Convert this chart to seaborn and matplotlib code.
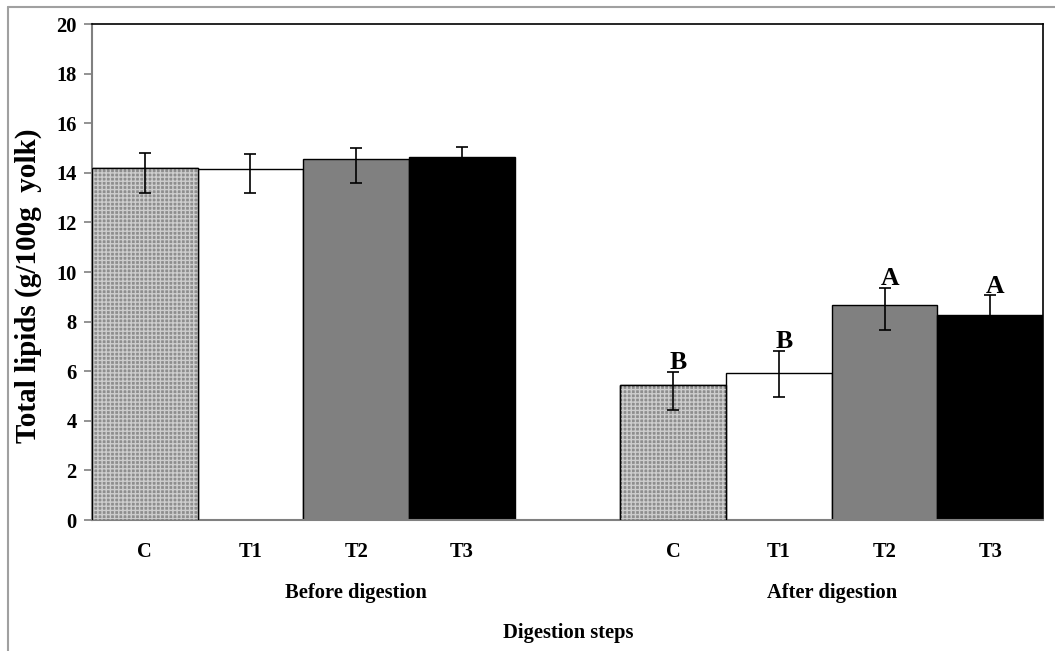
import numpy as np
import pandas as pd
import matplotlib
matplotlib.use("Agg")
import matplotlib.pyplot as plt
from matplotlib.lines import Line2D
import seaborn as sns

# ---- data ----
treatments = ["C", "T1", "T2", "T3", "C", "T1", "T2", "T3"]
stages = ["Before digestion"] * 4 + ["After digestion"] * 4
values = [14.2, 14.17, 14.57, 14.63, 5.43, 5.94, 8.68, 8.27]
err_low = [1.0, 1.0, 1.0, 0.4, 1.0, 0.97, 1.01, 0.8]
err_high = [0.61, 0.58, 0.42, 0.42, 0.55, 0.89, 0.69, 0.8]
letters = ["", "", "", "", "B", "B", "A", "A"]
group_labels = ["Before digestion", "After digestion"]
yticks = list(range(0, 21, 2))

positions = [0, 1, 2, 3, 5, 6, 7, 8]
colors = {"C": "#8e8e8e", "T1": "#ffffff", "T2": "#808080", "T3": "#000000"}

df = pd.DataFrame({"pos": positions, "value": values, "treat": treatments, "stage": stages})

sns.set_theme(style="white")
plt.rcParams["font.family"] = ["Liberation Serif", "DejaVu Serif"]
plt.rcParams["font.weight"] = "bold"
plt.rcParams["hatch.linewidth"] = 1.0
plt.rcParams["text.color"] = "black"
plt.rcParams["axes.labelcolor"] = "black"
plt.rcParams["xtick.color"] = "black"
plt.rcParams["ytick.color"] = "black"

FS = 14.8
W, H = 1055, 651
fig = plt.figure(figsize=(W / 100, H / 100), dpi=100)
ax = fig.add_axes([92 / W, 1 - 520 / H, 951 / W, 496 / H])

sns.barplot(data=df, x="pos", y="value", hue="treat", palette=colors,
            native_scale=True, dodge=False, width=1.0, edgecolor="black",
            linewidth=1.0, legend=False, errorbar=None, ax=ax, zorder=2)

# texture for the control bars
cmask = [t == "C" for t in treatments]
cpos = [p for p, m in zip(positions, cmask) if m]
cval = [v for v, m in zip(values, cmask) if m]
ax.bar(cpos, cval, width=1.0, fill=False, hatch="++++", edgecolor="#cdcdcd",
       linewidth=0, zorder=3)
ax.bar(cpos, cval, width=1.0, fill=False, edgecolor="black", linewidth=1.0, zorder=4)

ax.errorbar(positions, values, yerr=[err_low, err_high], fmt="none",
            ecolor="black", elinewidth=1.2, capsize=4, capthick=1.2, zorder=5)

for p, v, eh, lt in zip(positions, values, err_high, letters):
    if lt:
        ax.text(p + 0.05, v + eh + 0.1, lt, ha="center", va="baseline",
                fontsize=18.5, fontweight="bold", color="black", zorder=6)

ax.set_xlim(-0.5, 8.5)
ax.set_ylim(0, 20)
ax.set_yticks(yticks)
ax.set_yticklabels([str(t) for t in yticks], fontsize=FS, fontweight="bold", color="black")
ax.tick_params(axis="y", which="major", direction="out", length=6, width=1.2,
               color="#808080", labelcolor="black", pad=5, left=True)
ax.set_xticks(positions)
ax.set_xticklabels(treatments, fontsize=FS, fontweight="bold", color="black")
ax.tick_params(axis="x", length=0, pad=16, labelcolor="black")
ax.set_xlabel("")
ax.set_ylabel("")

for side in ["top", "right"]:
    ax.spines[side].set_visible(True)
    ax.spines[side].set_color("black")
    ax.spines[side].set_linewidth(1.2)
for side in ["left", "bottom"]:
    ax.spines[side].set_visible(True)
    ax.spines[side].set_color("#808080")
    ax.spines[side].set_linewidth(1.5)

# group labels
ax.text(2.0, -73 / 24.8, group_labels[0], ha="center", va="center",
        fontsize=FS, fontweight="bold", color="black")
ax.text(6.5, -73 / 24.8, group_labels[1], ha="center", va="center",
        fontsize=FS, fontweight="bold", color="black")

fig.text(568 / W, 1 - 633 / H, "Digestion steps", ha="center", va="center",
         fontsize=FS, fontweight="bold", color="black")
fig.text(28 / W, 1 - 286 / H, "Total lipids (g/100g  yolk)", ha="center",
         va="center", rotation=90, fontsize=21, fontweight="bold", color="black")

# outer chart frame (partially visible)
fig.add_artist(Line2D([8 / W, 8 / W], [0, 1 - 7 / H], transform=fig.transFigure,
                      color="#a0a0a0", lw=1.5))
fig.add_artist(Line2D([8 / W, 1], [1 - 7 / H, 1 - 7 / H], transform=fig.transFigure,
                      color="#a0a0a0", lw=1.5))

fig.savefig("out.png", dpi=100)
